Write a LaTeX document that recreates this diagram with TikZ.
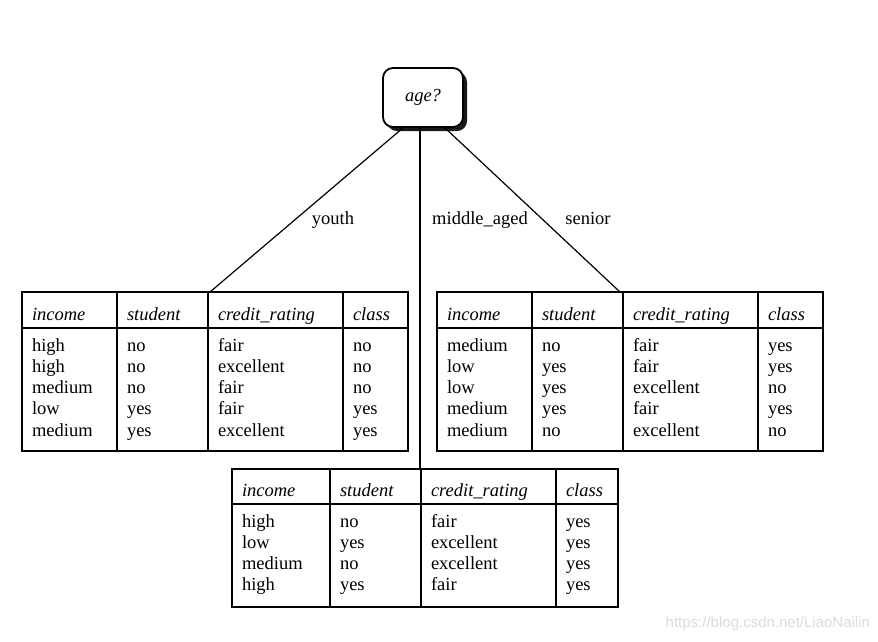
\documentclass[tikz,border=0pt]{standalone}
\usepackage{fontspec}
\setmainfont{Liberation Serif}
\newfontfamily\wmfont{Liberation Sans}
\usetikzlibrary{shadows,calc}
\newcommand\tabgrid[9]{%
  \node[outerbox, minimum width={#6-#2}, minimum height={#9-#7}] (#1) at ({(#2+#6)/2},{(#7+#9)/2}) {};
  \draw[innerline] (#3,#7) -- (#3,#9) (#4,#7) -- (#4,#9) (#5,#7) -- (#5,#9);
  \draw[outerline] (#2,#8) -- (#6,#8);
  \node[hcell] (#1h1) at ({#2+10},{#8-8}) {income};
  \node[hcell] (#1h2) at ({#3+10},{#8-8}) {student};
  \node[hcell] (#1h3) at ({#4+10},{#8-8}) {credit\_rating};
  \node[hcell] (#1h4) at ({#5+10},{#8-8}) {class};
}
\newcommand\tabrow[9]{% name, x0..x3, baseline, texts
  \node[cell] at ({#2+10},#6) {#7};
}
\begin{document}
\begin{tikzpicture}[x=1pt,y=-1pt,
  every node/.style={font=\fontsize{18.5}{21}\selectfont, inner sep=0pt, outer sep=0pt},
  agebox/.style={draw, line width=1.8pt, rounded corners=10pt, fill=white,
    minimum width=80pt, minimum height=59pt,
    drop shadow={shadow xshift=4pt, shadow yshift=-4pt, fill=black, opacity=0.9}},
  outerbox/.style={draw, line width=2.6pt},
  outerline/.style={line width=2.6pt},
  innerline/.style={line width=1.2pt},
  cell/.style={anchor=base west},
  hcell/.style={anchor=base west, font=\fontsize{18.5}{21}\selectfont\itshape},
  branch/.style={line width=1.2pt},
  lbl/.style={anchor=base}]
\useasboundingbox (0,0) rectangle (878,641);

\node[agebox, font=\fontsize{18.5}{21}\selectfont\itshape] (age) at (423,97.5) {age?};

% tables
\tabgrid{T1}{22}{117}{208}{343}{408}{292}{328}{451}
\tabgrid{T2}{437}{532}{623}{758}{823}{292}{328}{451}
\tabgrid{T3}{232}{330}{421}{556}{618}{469}{504}{607}

% rows of T1
\foreach \a/\b/\c/\d [count=\i from 0] in {high/no/fair/no, high/no/excellent/no, medium/no/fair/no, low/yes/fair/yes, medium/yes/excellent/yes}{
  \pgfmathsetmacro\yy{351+21.3*\i}
  \node[cell] at (32,\yy) {\a};
  \node[cell] at (127,\yy) {\b};
  \node[cell] at (218,\yy) {\c};
  \node[cell] at (353,\yy) {\d};
}
% rows of T2
\foreach \a/\b/\c/\d [count=\i from 0] in {medium/no/fair/yes, low/yes/fair/yes, low/yes/excellent/no, medium/yes/fair/yes, medium/no/excellent/no}{
  \pgfmathsetmacro\yy{351+21.3*\i}
  \node[cell] at (447,\yy) {\a};
  \node[cell] at (542,\yy) {\b};
  \node[cell] at (633,\yy) {\c};
  \node[cell] at (768,\yy) {\d};
}
% rows of T3
\foreach \a/\b/\c/\d [count=\i from 0] in {high/no/fair/yes, low/yes/excellent/yes, medium/no/excellent/yes, high/yes/fair/yes}{
  \pgfmathsetmacro\yy{527+21.3*\i}
  \node[cell] at (242,\yy) {\a};
  \node[cell] at (340,\yy) {\b};
  \node[cell] at (431,\yy) {\c};
  \node[cell] at (566,\yy) {\d};
}

% branches
\draw[branch] ($(age.south)+(-19,0)$) -- ($(T1.north)+(-5,0)$);
\draw[branch] ($(age.south)+(-3,0)$) -- ($(T3.north)+(-5,0)$);
\draw[branch] ($(age.south)+(21,0)$) -- ($(T2.north)+(-10,0)$);

% branch labels
\node[lbl] (l1) at (333,224) {youth};
\node[lbl] (l2) at (480,224) {middle\_aged};
\node[lbl] (l3) at (588,224) {senior};

% watermark
\node[anchor=base east, font=\wmfont\fontsize{15}{18}\selectfont, text=black!14] (wm) at (870,627) {https://blog.csdn.net/LiaoNailin};
\end{tikzpicture}
\end{document}
